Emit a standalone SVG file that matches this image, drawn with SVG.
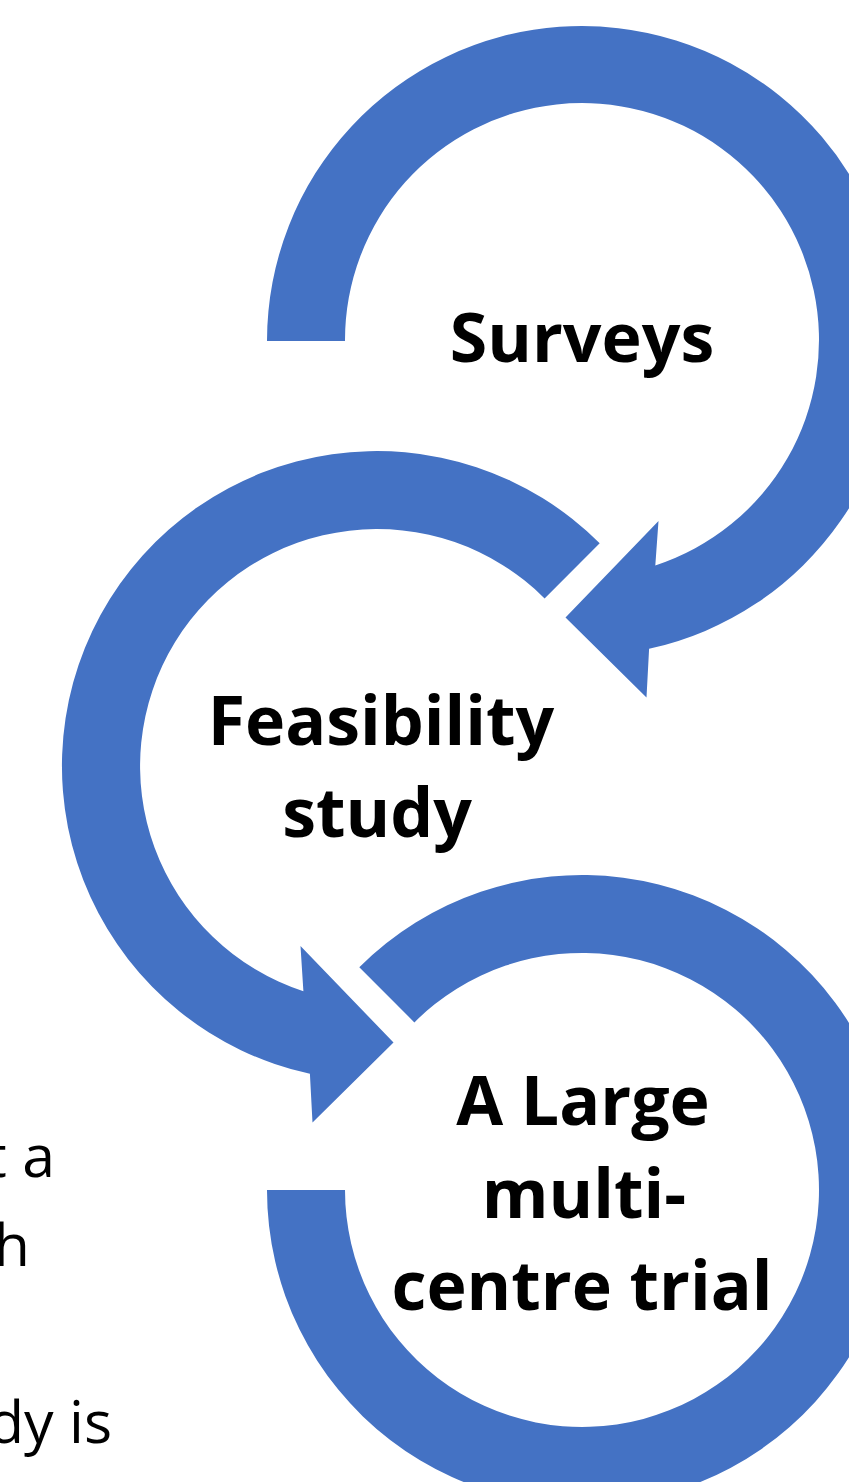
<svg xmlns="http://www.w3.org/2000/svg" width="849" height="1482" viewBox="0 0 849 1482">
  <style>
    .ring { fill: #4472C4; }
    .label { font-family: "Open Sans", "Liberation Sans", sans-serif; font-weight: 700; font-size: 68px; fill: #000; text-anchor: middle; }
    .body { font-family: "Open Sans", "Liberation Sans", sans-serif; font-weight: 400; font-size: 59px; fill: #000; text-anchor: end; }
  </style>
  <rect width="849" height="1482" fill="#ffffff"/>

  <!-- slide body text partly hidden behind the graphic -->
  <g id="body-text">
    <text class="body" x="55" y="1177">t a</text>
    <text class="body" x="30" y="1266">h</text>
    <text class="body" x="112" y="1443">dy is</text>
  </g>

  <!-- circular arrows -->
  <g id="connectors">
    <path id="arrow-surveys" class="ring" d="M 267,341 A 315 315 0 1 1 649.1,648.8 L 646.5,697.5 L 565.5,617.5 L 658.5,521 L 655.3,565.4 A 237 237 0 1 0 345,341 Z"/>
    <path id="arrow-feasibility" class="ring" d="M 599.7,543.3 A 315 315 0 1 0 309.9,1073.8 L 312.5,1122.5 L 393.5,1042.5 L 300.5,946 L 303.4,991.3 A 237 237 0 1 1 544.6,598.4 Z"/>
    <path id="arc-trial" class="ring" d="M 267,1190 A 315 315 0 1 0 359.3,967.3 L 414.4,1022.4 A 237 237 0 1 1 345,1190 Z"/>
  </g>

  <g id="node-surveys">
    <text class="label" x="582" y="362">Surveys</text>
  </g>
  <g id="node-feasibility">
    <text class="label" x="381" y="745">Feasibility</text>
    <text class="label" x="377" y="837">study</text>
  </g>
  <g id="node-trial">
    <text class="label" x="583" y="1125">A Large</text>
    <text class="label" x="584" y="1218">multi-</text>
    <text class="label" x="582" y="1310">centre trial</text>
  </g>
</svg>
